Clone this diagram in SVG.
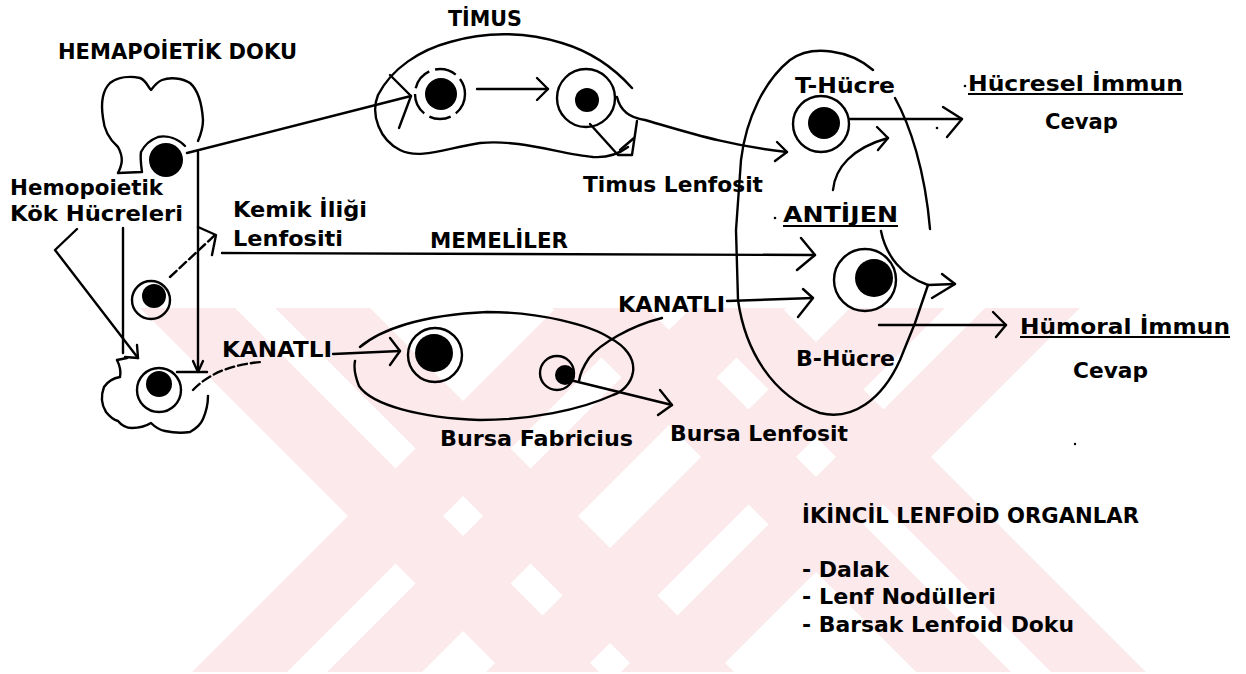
<svg xmlns="http://www.w3.org/2000/svg" width="1246" height="674" viewBox="0 0 1246 674">
  <style>
    .ln { fill: none; stroke: #000; stroke-width: 2.4; stroke-linecap: round; stroke-linejoin: round; }
    .ah { fill: none; stroke: #000; stroke-width: 2.4; stroke-linecap: round; stroke-linejoin: round; }
    .dash { stroke-dasharray: 9 4; }
    .ring { fill: none; stroke: #000; stroke-width: 2.4; }
    .nuc { fill: #000; }
    .tx { font-family: "DejaVu Sans", "Liberation Sans", sans-serif; font-weight: bold; font-size: 21px; fill: #000; }
    .ul { stroke: #000; stroke-width: 2.2; }
    .wm { fill: #fce9ec; }
  </style>
  <defs>
    <clipPath id="emblem-clip">
      <rect x="0" y="308" width="1246" height="364"/>
    </clipPath>
  </defs>

  <rect width="1246" height="674" fill="#fff"/>

  <!-- pale background emblem: two striped crosses -->
  <g id="emblem" clip-path="url(#emblem-clip)">
    <!-- left cross, falling stripes -->
    <polygon class="wm" points="132,300 227,300 607,680 512,680"/>
    <polygon class="wm" points="267,300 362,300 742,680 647,680"/>
    <!-- left cross, rising stripes -->
    <polygon class="wm" points="564,300 659,300 279,680 184,680"/>
    <polygon class="wm" points="699,300 794,300 414,680 319,680"/>
    <!-- right cross, falling stripes -->
    <polygon class="wm" points="544,300 639,300 1019,680 924,680"/>
    <polygon class="wm" points="679,300 774,300 1154,680 1059,680"/>
    <!-- right cross, rising stripes -->
    <polygon class="wm" points="858,300 953,300 573,680 478,680"/>
    <polygon class="wm" points="993,300 1088,300 708,680 613,680"/>
  </g>

  <!-- connectors -->
  <g id="connectors">
    <!-- bone marrow stem cell to thymus -->
    <path class="ln" d="M187,153 L411,96"/>
    <polyline class="ah" points="390,75 411,96 399,128"/>
    <!-- vertical marrow lines -->
    <path class="ln" d="M198,152 L198,370"/>
    <polyline class="ah" points="193,361 198,372 203,361"/>
    <path class="ln" d="M177,372 L207,372"/>
    <path class="ln" d="M123,228 L123,353"/>
    <path class="ln" d="M77,229 L55,250 L138,358"/>
    <polyline class="ah" points="137,345 138,358 125,357"/>
    <!-- middle cell to marrow lymphocyte -->
    <path class="ln dash" d="M170,277 L215,235"/>
    <polyline class="ah" points="198,227 216,235 212,255"/>
    <!-- mammal route -->
    <path class="ln" d="M222,253 L815,255"/>
    <polyline class="ah" points="801,238 815,255 797,270"/>
    <!-- avian route to bursa -->
    <path class="ln dash" d="M193,390 C210,372 235,364 262,362"/>
    <path class="ln" d="M333,354 L400,351"/>
    <polyline class="ah" points="390,338 400,351 390,365"/>
    <!-- inside thymus -->
    <path class="ln" d="M477,89 L548,89"/>
    <polyline class="ah" points="537,78 548,89 537,100"/>
    <path class="ln" d="M590,124 L618,155 L632,155 L637,121"/>
    <path class="ln" d="M620,150 L634,138"/>
    <!-- thymus lymphocyte to T cell -->
    <path class="ln" d="M617,97 C620,110 630,118 645,120 C690,133 730,146 787,152"/>
    <polyline class="ah" points="777,142 787,152 775,161"/>
    <!-- bursa lymphocyte -->
    <path class="ln" d="M570,380 L672,405"/>
    <polyline class="ah" points="660,390 672,405 658,415"/>
    <path class="ln" d="M662,318 C630,326 600,344 589,358 C583,367 580,374 579,381"/>
    <!-- avian route to B cell -->
    <path class="ln" d="M727,301 L813,298"/>
    <polyline class="ah" points="803,289 813,298 798,317"/>
    <!-- T cell to cellular response -->
    <path class="ln" d="M850,119 L962,119"/>
    <polyline class="ah" points="943,107 962,119 947,137"/>
    <circle cx="937" cy="128" r="1.3" class="nuc"/>
    <!-- antigen to T cell -->
    <path class="ln" d="M833,190 C835,168 852,148 888,138"/>
    <polyline class="ah" points="877,127 888,138 878,150"/>
    <!-- antigen to B cell -->
    <path class="ln" d="M881,231 C886,256 902,276 928,285 L955,284"/>
    <polyline class="ah" points="942,274 955,284 932,298"/>
    <!-- B cell to humoral response -->
    <path class="ln" d="M879,325 L1006,325"/>
    <polyline class="ah" points="993,312 1006,325 996,337"/>
  </g>

  <!-- hemopoietic tissue, upper bone end -->
  <g id="bone-top">
    <path class="ln" d="M118,173 C122,165 124,158 118,147 C110,140 104,130 103,118 C101,105 101,92 110,83 C118,77 130,76 140,78 C146,80 148,87 151,90 C154,86 157,82 162,80 C170,77 182,78 190,83 C198,90 202,105 203,120 C203,128 201,134 198,141"/>
    <path class="ln" d="M118,173 L142,172 C141,164 140,158 141,152 C144,146 150,140 158,137 C168,135 178,139 185,146"/>
    <circle class="nuc" cx="166" cy="160" r="17"/>
  </g>

  <!-- middle marrow cell -->
  <g id="cell-marrow">
    <circle class="ring" cx="151" cy="300" r="19"/>
    <circle class="nuc" cx="154" cy="296" r="12"/>
  </g>

  <!-- hemopoietic tissue, lower bone end -->
  <g id="bone-bottom">
    <path class="ln" d="M117,360 C120,366 121,372 120,377 C114,378 108,381 104,387 C101,395 101,404 106,412 C110,417 114,420 118,421 C122,426 126,428 132,428 C140,428 146,426 151,423 C155,427 160,430 165,431 C174,433 184,433 190,432 C197,428 201,424 203,419 C206,412 208,404 208,396"/>
    <path class="ln" d="M117,360 L127,358"/>
    <circle class="ring" cx="159" cy="390" r="22"/>
    <circle class="nuc" cx="159" cy="384" r="13"/>
  </g>

  <!-- thymus -->
  <g id="thymus">
    <path class="ln" d="M632,88 C616,70 592,52 562,43 C530,33 490,30 450,42 C420,50 392,68 378,95 C370,115 380,140 400,150 C420,160 446,148 480,143 C520,139 560,154 593,157 C608,158 620,153 628,147"/>
    <circle class="ring" cx="440" cy="94" r="25" style="stroke-dasharray:22 6"/>
    <circle class="nuc" cx="441" cy="94" r="16"/>
    <circle class="ring" cx="586" cy="98" r="29"/>
    <circle class="nuc" cx="587" cy="100" r="12"/>
  </g>

  <!-- bursa of Fabricius -->
  <g id="bursa">
    <path class="ln" d="M360,347 C380,330 420,315 487,312 C540,312 590,325 610,338 C625,346 635,358 633,372 C631,384 622,392 613,395 C580,410 530,420 480,420 C420,418 372,405 359,386 C355,376 354,366 355,361"/>
    <circle class="ring" cx="435" cy="355" r="27"/>
    <circle class="nuc" cx="434" cy="353" r="19"/>
    <circle class="ring" cx="557" cy="373" r="17"/>
    <circle class="nuc" cx="565" cy="375" r="10"/>
  </g>

  <!-- peripheral compartment with T and B cells -->
  <g id="periphery">
    <path class="ln" d="M873,70 C850,50 812,44 790,60 C765,80 746,118 741,160 L736,230 L738,300 C745,350 772,396 820,413 C852,421 882,400 900,360 L915,323 L928,285"/>
    <path class="ln" d="M895,98 C910,125 925,170 930,229"/>
    <circle class="ring" cx="821" cy="124" r="28"/>
    <circle class="nuc" cx="824" cy="123" r="16"/>
    <circle class="ring" cx="865" cy="280" r="31"/>
    <circle class="nuc" cx="874" cy="278" r="19"/>
  </g>

  <!-- labels -->
  <g id="labels">
    <text class="tx" x="58" y="59" textLength="239" lengthAdjust="spacingAndGlyphs">HEMAPOİETİK DOKU</text>
    <text class="tx" x="448" y="26" textLength="74" lengthAdjust="spacingAndGlyphs">TİMUS</text>
    <text class="tx" x="10" y="195" textLength="153" lengthAdjust="spacingAndGlyphs">Hemopoietik</text>
    <text class="tx" x="10" y="221" textLength="173" lengthAdjust="spacingAndGlyphs">Kök Hücreleri</text>
    <text class="tx" x="233" y="217" textLength="134" lengthAdjust="spacingAndGlyphs">Kemik İliği</text>
    <text class="tx" x="233" y="246" textLength="110" lengthAdjust="spacingAndGlyphs">Lenfositi</text>
    <text class="tx" x="430" y="248" textLength="138" lengthAdjust="spacingAndGlyphs">MEMELİLER</text>
    <text class="tx" x="222" y="357" textLength="110" lengthAdjust="spacingAndGlyphs">KANATLI</text>
    <text class="tx" x="618" y="312" textLength="107" lengthAdjust="spacingAndGlyphs">KANATLI</text>
    <text class="tx" x="583" y="192" textLength="180" lengthAdjust="spacingAndGlyphs">Timus Lenfosit</text>
    <text class="tx" x="795" y="93" textLength="100" lengthAdjust="spacingAndGlyphs">T-Hücre</text>
    <circle cx="965" cy="86" r="1.3" class="nuc"/>
    <text class="tx" x="968" y="91" textLength="215" lengthAdjust="spacingAndGlyphs">Hücresel İmmun</text>
    <line class="ul" x1="968" y1="94" x2="1183" y2="94"/>
    <text class="tx" x="1045" y="129" textLength="73" lengthAdjust="spacingAndGlyphs">Cevap</text>
    <circle cx="775" cy="218" r="1.3" class="nuc"/>
    <text class="tx" x="783" y="222" textLength="115" lengthAdjust="spacingAndGlyphs">ANTİJEN</text>
    <line class="ul" x1="783" y1="226" x2="898" y2="226"/>
    <text class="tx" x="796" y="366" textLength="99" lengthAdjust="spacingAndGlyphs">B-Hücre</text>
    <text class="tx" x="1020" y="334" textLength="210" lengthAdjust="spacingAndGlyphs">Hümoral İmmun</text>
    <line class="ul" x1="1020" y1="337" x2="1230" y2="337"/>
    <text class="tx" x="1073" y="378" textLength="75" lengthAdjust="spacingAndGlyphs">Cevap</text>
    <text class="tx" x="440" y="446" textLength="193" lengthAdjust="spacingAndGlyphs">Bursa Fabricius</text>
    <text class="tx" x="670" y="441" textLength="178" lengthAdjust="spacingAndGlyphs">Bursa Lenfosit</text>
    <circle cx="1075" cy="444" r="1.2" class="nuc"/>
    <text class="tx" x="802" y="523" textLength="337" lengthAdjust="spacingAndGlyphs">İKİNCİL LENFOİD ORGANLAR</text>
    <text class="tx" x="802" y="577" textLength="87" lengthAdjust="spacingAndGlyphs">- Dalak</text>
    <text class="tx" x="802" y="604" textLength="194" lengthAdjust="spacingAndGlyphs">- Lenf Nodülleri</text>
    <text class="tx" x="802" y="632" textLength="272" lengthAdjust="spacingAndGlyphs">- Barsak Lenfoid Doku</text>
  </g>
</svg>
